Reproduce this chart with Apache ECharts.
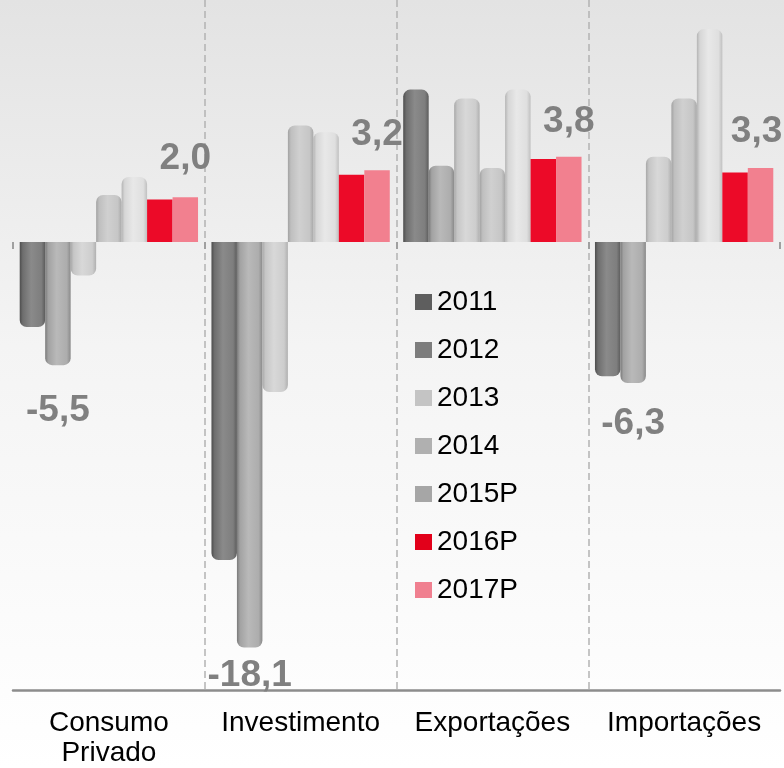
<!DOCTYPE html>
<html><head><meta charset="utf-8">
<script src="https://cdn.jsdelivr.net/npm/echarts@6/dist/echarts.min.js"></script>
<style>html,body{margin:0;padding:0;background:#fff}#c{width:784px;height:768px}</style>
</head><body><div id="c"></div>
<script>
// ---- data ----
const categories = ['Consumo\nPrivado', 'Investimento', 'Exportações', 'Importações'];
const seriesNames = ['2011', '2012', '2013', '2014', '2015P', '2016P', '2017P'];
const v2011  = [-3.8, -14.2, 6.8, -6.0];
const v2012  = [-5.5, -18.1, 3.4, -6.3];
const v2013  = [-1.5, -6.7, 6.4, 3.8];
const v2014  = [2.1, 5.2, 3.3, 6.4];
const v2015P = [2.9, 4.9, 6.8, 9.5];
const v2016P = [1.9, 3.0, 3.7, 3.1];
const v2017P = [2.0, 3.2, 3.8, 3.3];
const allValues = [v2011, v2012, v2013, v2014, v2015P, v2016P, v2017P];
// which items carry a value label
const labelledItems = { '2012': [0, 1, 3], '2017P': [0, 1, 2, 3] };

// ---- styles ----
const FONT = 'Liberation Sans, Arial, sans-serif';
const G = echarts.graphic.LinearGradient;
function cyl(stops) { return new G(0, 0, 1, 0, stops.map((c, i) => ({ offset: [0, 0.12, 0.45, 0.85, 1][i], color: c }))); }
const barColors = [
  cyl(['#4d4d4d', '#6e6e6e', '#8a8a8a', '#7e7e7e', '#5c5c5c']),
  cyl(['#7a7a7a', '#a2a2a2', '#b9b9b9', '#adadad', '#8a8a8a']),
  cyl(['#a8a8a8', '#c6c6c6', '#d8d8d8', '#cdcdcd', '#b0b0b0']),
  cyl(['#a2a2a2', '#bfbfbf', '#d0d0d0', '#c6c6c6', '#a8a8a8']),
  cyl(['#b4b4b4', '#d6d6d6', '#e8e8e8', '#dfdfdf', '#c0c0c0']),
  '#EC0A28',
  '#F2808F'
];
const legendColors = ['#5e5e5e', '#7d7d7d', '#c4c4c4', '#b0b0b0', '#a6a6a6', '#E2001A', '#F08090'];
const rounded = [true, true, true, true, true, false, false];
const labelDistance = { '2012': [27, 10, 0, 22], '2017P': [20, 17, 17, 18] };
const labelOffsetX = { '2012': [0, 0, 0, 0], '2017P': [0, 0, 0, -4] };

const series = seriesNames.map((name, s) => ({
  name: name,
  type: 'bar',
  xAxisIndex: 0,
  barGap: '0%',
  barCategoryGap: '7%',
  itemStyle: { color: barColors[s] },
  data: allValues[s].map((v, i) => {
    const item = { value: v, itemStyle: { borderRadius: rounded[s] ? (v < 0 ? [0, 0, 7, 7] : [7, 7, 0, 0]) : 0 } };
    if (labelledItems[name] && labelledItems[name].indexOf(i) >= 0) {
      item.label = {
        show: true,
        position: v < 0 ? 'bottom' : 'top',
        distance: labelDistance[name][i],
        offset: [labelOffsetX[name][i], 0],
        formatter: p => p.value.toFixed(1).replace('.', ','),
        fontSize: 37, fontWeight: 'bold', color: '#808080', fontFamily: FONT
      };
    }
    return item;
  })
}));

const chart = echarts.init(document.getElementById('c'), null, { renderer: 'canvas' });
chart.setOption({
  animation: false,
  backgroundColor: new G(0, 0, 0, 1, [
    { offset: 0, color: '#e3e3e3' },
    { offset: 0.45, color: '#f4f4f4' },
    { offset: 1, color: '#ffffff' }
  ]),
  grid: { left: 13, right: 4, top: 0, bottom: 78, containLabel: false },
  legend: {
    orient: 'vertical', left: 410, top: 283,
    icon: 'rect', itemWidth: 17, itemHeight: 16, itemGap: 20,
    textStyle: { fontSize: 28, color: '#000', fontFamily: FONT },
    data: seriesNames.map((n, i) => ({ name: n, itemStyle: { color: legendColors[i] } }))
  },
  xAxis: [
    {
      type: 'category', data: categories, position: 'bottom',
      axisLine: { onZero: false, lineStyle: { color: '#8c8c8c', width: 2.5 } },
      axisTick: { show: false },
      axisLabel: { interval: 0, margin: 18, fontSize: 28, color: '#000', fontFamily: FONT, lineHeight: 30 },
      splitLine: { show: true, showMinLine: false, showMaxLine: false, lineStyle: { color: '#b3b3b3', type: [7, 4], width: 1.5 } }
    },
    {
      type: 'category', data: categories, position: 'bottom',
      axisLine: { show: false, onZero: true },
      axisTick: { show: true, length: 7, lineStyle: { color: '#a0a0a0', width: 2 } },
      axisLabel: { show: false },
      splitLine: { show: false }
    }
  ],
  yAxis: {
    type: 'value', min: -20, max: 10.8,
    axisLine: { show: false }, axisTick: { show: false }, axisLabel: { show: false }, splitLine: { show: false }
  },
  series: series
});
</script>
</body></html>
